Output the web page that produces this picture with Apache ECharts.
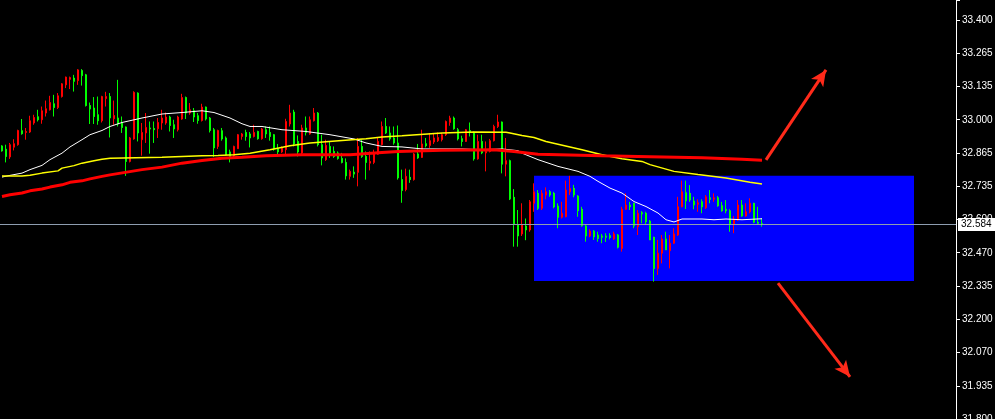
<!DOCTYPE html>
<html>
<head>
<meta charset="utf-8">
<script src="https://cdn.jsdelivr.net/npm/echarts@6/dist/echarts.min.js"></script>
<style>
html,body{margin:0;padding:0;background:#000;}
#chart{width:995px;height:419px;}
</style>
</head>
<body>
<div id="chart"></div>
<script>
// ---- data ----
const opens = [32.875,32.853,32.900,32.904,32.957,32.944,32.953,32.996,33.009,33.000,33.036,33.044,33.069,33.049,33.096,33.144,33.171,33.169,33.154,33.200,33.177,33.057,33.043,33.013,32.996,33.093,33.093,33.007,33.017,32.983,32.969,32.833,32.927,33.110,32.947,32.949,32.969,32.963,32.960,32.989,33.007,33.011,32.977,32.963,33.011,33.089,33.027,33.040,33.011,32.997,33.051,33.003,32.957,32.887,32.957,32.923,32.860,32.853,32.893,32.940,32.943,32.933,32.927,32.949,32.924,32.963,32.943,32.933,32.883,32.871,32.887,32.993,33.027,32.903,32.871,32.967,32.949,33.000,33.027,32.900,32.847,32.897,32.867,32.853,32.845,32.829,32.775,32.793,32.782,32.893,32.853,32.829,32.833,32.867,32.913,32.973,32.947,32.923,32.907,32.767,32.716,32.773,32.760,32.863,32.847,32.903,32.896,32.916,32.927,32.929,32.940,32.993,33.007,32.964,32.923,32.913,32.960,32.951,32.843,32.913,32.867,32.873,32.916,32.973,32.991,32.822,32.836,32.682,32.580,32.534,32.578,32.558,32.671,32.711,32.645,32.705,32.711,32.698,32.651,32.609,32.625,32.718,32.725,32.698,32.635,32.575,32.534,32.554,32.531,32.524,32.529,32.529,32.528,32.542,32.489,32.641,32.658,32.651,32.574,32.625,32.622,32.591,32.518,32.404,32.465,32.522,32.478,32.505,32.542,32.651,32.711,32.675,32.678,32.658,32.667,32.651,32.691,32.681,32.687,32.655,32.635,32.635,32.582,32.598,32.658,32.614,32.631,32.665,32.589,32.585,32.582];
const highs = [32.898,32.900,32.907,32.922,32.960,33.003,32.967,33.016,33.020,33.040,33.053,33.077,33.096,33.100,33.107,33.147,33.173,33.173,33.180,33.203,33.203,33.184,33.069,33.091,33.093,33.096,33.112,33.107,33.077,33.160,33.013,32.973,32.931,33.114,33.110,32.987,33.027,32.993,32.993,33.007,33.040,33.029,33.016,33.000,33.016,33.104,33.093,33.067,33.047,33.027,33.064,33.053,33.011,32.967,32.960,32.967,32.933,32.880,32.896,32.943,32.947,32.960,32.951,32.980,32.956,32.967,32.973,32.973,32.943,32.903,32.893,33.004,33.060,33.040,32.937,32.980,33.013,33.013,33.047,33.031,32.940,32.920,32.913,32.893,32.873,32.867,32.845,32.800,32.813,32.927,32.920,32.873,32.873,32.880,32.927,32.993,33.007,32.973,32.973,32.977,32.800,32.804,32.800,32.867,32.903,32.960,32.927,32.947,32.947,32.949,32.947,32.997,33.016,33.013,32.967,32.936,32.963,32.989,32.953,32.940,32.940,32.913,32.923,32.980,33.020,32.993,32.927,32.840,32.722,32.638,32.665,32.604,32.678,32.745,32.718,32.718,32.729,32.718,32.711,32.665,32.671,32.756,32.775,32.739,32.698,32.651,32.578,32.561,32.558,32.551,32.542,32.545,32.545,32.551,32.542,32.651,32.705,32.671,32.667,32.638,32.634,32.631,32.598,32.531,32.518,32.538,32.551,32.538,32.565,32.691,32.756,32.756,32.738,32.691,32.681,32.681,32.698,32.718,32.705,32.694,32.671,32.678,32.641,32.614,32.678,32.678,32.665,32.685,32.667,32.651,32.605];
const lows = [32.872,32.829,32.843,32.877,32.896,32.940,32.920,32.947,32.980,32.993,32.984,33.013,33.037,33.013,33.043,33.089,33.127,33.123,33.113,33.140,33.137,33.053,32.983,32.983,32.980,32.989,33.053,32.929,32.980,32.973,32.947,32.775,32.829,32.920,32.913,32.856,32.907,32.864,32.907,32.927,32.960,32.980,32.953,32.927,32.953,33.000,33.003,33.020,32.991,32.984,32.993,32.997,32.949,32.851,32.883,32.916,32.856,32.829,32.849,32.883,32.920,32.916,32.889,32.929,32.920,32.920,32.927,32.916,32.876,32.853,32.867,32.862,32.973,32.893,32.853,32.862,32.937,32.940,32.993,32.893,32.817,32.835,32.847,32.847,32.840,32.825,32.760,32.760,32.767,32.733,32.847,32.760,32.797,32.822,32.860,32.897,32.943,32.916,32.900,32.760,32.667,32.713,32.747,32.756,32.843,32.847,32.889,32.887,32.903,32.911,32.913,32.935,32.976,32.960,32.917,32.893,32.911,32.933,32.836,32.840,32.862,32.793,32.869,32.913,32.967,32.785,32.773,32.678,32.491,32.491,32.534,32.517,32.551,32.631,32.638,32.638,32.681,32.691,32.645,32.565,32.604,32.609,32.698,32.689,32.611,32.571,32.511,32.529,32.518,32.511,32.505,32.510,32.520,32.518,32.484,32.471,32.638,32.638,32.565,32.538,32.585,32.578,32.518,32.351,32.378,32.424,32.478,32.404,32.502,32.534,32.649,32.642,32.671,32.641,32.631,32.625,32.642,32.665,32.671,32.651,32.631,32.625,32.551,32.545,32.595,32.611,32.611,32.625,32.585,32.578,32.571];
const closes = [32.895,32.882,32.851,32.890,32.900,32.956,32.949,32.951,32.987,33.012,33.000,33.027,33.040,33.064,33.049,33.093,33.140,33.162,33.167,33.157,33.197,33.180,33.057,33.047,33.020,32.996,33.085,33.093,33.004,33.007,32.987,32.971,32.833,32.923,33.107,32.920,32.947,32.967,32.965,32.964,32.987,32.987,33.011,32.980,32.960,33.003,33.089,33.027,33.036,33.016,32.997,33.051,33.007,32.960,32.893,32.956,32.927,32.871,32.857,32.884,32.933,32.949,32.943,32.933,32.953,32.924,32.960,32.949,32.940,32.884,32.871,32.880,32.983,33.031,32.913,32.867,32.967,32.943,32.996,33.027,32.900,32.840,32.893,32.873,32.867,32.845,32.829,32.773,32.790,32.789,32.893,32.853,32.826,32.829,32.862,32.900,32.973,32.947,32.927,32.907,32.760,32.720,32.769,32.760,32.863,32.849,32.904,32.897,32.911,32.916,32.920,32.940,32.989,33.007,32.960,32.924,32.913,32.957,32.949,32.843,32.913,32.867,32.873,32.916,32.973,32.991,32.822,32.836,32.689,32.580,32.542,32.574,32.558,32.665,32.705,32.645,32.698,32.711,32.705,32.654,32.609,32.611,32.711,32.725,32.694,32.641,32.574,32.534,32.554,32.538,32.534,32.534,32.535,32.522,32.538,32.484,32.641,32.658,32.665,32.571,32.627,32.625,32.594,32.529,32.404,32.465,32.522,32.475,32.505,32.538,32.651,32.707,32.705,32.674,32.661,32.671,32.647,32.687,32.681,32.687,32.655,32.641,32.635,32.582,32.598,32.658,32.614,32.631,32.665,32.589,32.584];

// moving-average lines: [bar index, price]
const maWhite = [[0,32.770],[2,32.777],[5,32.786],[7,32.800],[10,32.817],[12,32.840],[15,32.866],[17,32.891],[20,32.920],[22,32.940],[25,32.957],[27,32.973],[30,32.989],[35,33.007],[40,33.023],[45,33.029],[50,33.036],[53,33.029],[57,33.007],[60,32.984],[62,32.973],[65,32.973],[70,32.960],[76,32.953],[82,32.940],[88,32.923],[91,32.907],[95,32.893],[100,32.891],[105,32.883],[110,32.883],[115,32.883],[120,32.880],[125,32.883],[129,32.876],[130,32.866],[134,32.840],[139,32.813],[144,32.793],[147,32.773],[149,32.753],[152,32.726],[155,32.706],[158,32.672],[161,32.652],[164,32.626],[166,32.599],[168,32.590],[170,32.602],[175,32.602],[178,32.599],[181,32.602],[185,32.599],[190,32.603]];
const maYellow = [[0,32.774],[5,32.774],[7,32.777],[10,32.786],[14,32.795],[15,32.806],[18,32.816],[20,32.826],[23,32.836],[25,32.842],[27,32.846],[40,32.850],[50,32.856],[54,32.857],[58,32.860],[62,32.866],[67,32.880],[72,32.896],[77,32.907],[85,32.917],[91,32.924],[95,32.931],[100,32.936],[110,32.947],[118,32.951],[126,32.950],[127,32.947],[130,32.937],[133,32.929],[136,32.913],[145,32.880],[150,32.860],[155,32.844],[160,32.833],[162,32.820],[168,32.793],[174,32.780],[181,32.766],[187,32.749],[190,32.742]];
const maRed = [[0,32.692],[2,32.699],[5,32.706],[7,32.715],[10,32.722],[12,32.730],[15,32.739],[17,32.749],[20,32.755],[22,32.763],[25,32.773],[27,32.779],[35,32.800],[40,32.810],[45,32.826],[50,32.837],[55,32.846],[60,32.850],[66,32.856],[75,32.860],[87,32.860],[95,32.869],[99,32.873],[110,32.878],[123,32.880],[128,32.873],[134,32.862],[150,32.856],[162,32.852],[175,32.848],[185,32.842],[190,32.838]];

const barCount = 239;           // slots on the time axis (incl. empty right margin)
const currentPrice = 32.584;
const boxRange = {fromBar: 133, toBar: 228, top: 32.775, bottom: 32.353};
const arrowUp = [[191, 32.839], [206, 33.200]];
const arrowDown = [[194, 32.345], [212, 31.969]];
const tickLabels = ['31.800','31.935','32.070','32.200','32.335','32.470','32.600','32.735','32.865','33.000','33.135','33.265','33.400'];
const yMin = 31.8, yTop = 33.4;

// ---- build ----
const categories = [];
for (let i = 0; i < barCount; i++) categories.push(String(i));
const candles = opens.map((o, i) => [o, closes[i], lows[i], highs[i]]);
const interval = (yTop - yMin) / 12;
const yMax = yTop + 20 * (yTop - yMin) / 399;

const chart = echarts.init(document.getElementById('chart'), null, {renderer: 'canvas'});
chart.setOption({
  backgroundColor: '#000000',
  animation: false,
  grid: {left: 0, right: 39, top: 0, bottom: 0, containLabel: false, outerBoundsMode: 'none'},
  xAxis: {
    type: 'category', data: categories, boundaryGap: true,
    axisLine: {show: false}, axisTick: {show: false}, axisLabel: {show: false}, splitLine: {show: false}
  },
  yAxis: {
    type: 'value', position: 'right', min: yMin, max: yMax, interval: interval, scale: true,
    axisLine: {show: true, lineStyle: {color: '#ffffff', width: 1}},
    axisTick: {show: true, length: 4, lineStyle: {color: '#ffffff'}},
    splitLine: {show: false},
    axisLabel: {
      color: '#ffffff', fontSize: 10, fontFamily: 'Liberation Sans', margin: 6,
      formatter: function (v) {
        const k = Math.round((v - yMin) / interval);
        if (Math.abs(v - (yMin + k * interval)) > interval * 0.05) return '';
        return (k >= 0 && k < tickLabels.length) ? tickLabels[k] : '';
      }
    }
  },
  series: [
    {
      type: 'line', data: [], z: 1, silent: true,
      markArea: {
        silent: true,
        itemStyle: {color: '#0000ff', opacity: 1},
        data: [[{xAxis: boxRange.fromBar, yAxis: boxRange.top}, {xAxis: boxRange.toBar, yAxis: boxRange.bottom}]]
      }
    },
    {
      type: 'candlestick', data: candles, z: 3, barWidth: 2,
      itemStyle: {color: '#ffffff', borderColor: '#00ff00', color0: '#ff0000', borderColor0: '#ff0000', borderWidth: 1},
      markLine: {
        silent: true, symbol: 'none',
        lineStyle: {color: '#8e9db0', width: 1, type: 'solid'},
        label: {
          show: true, position: 'end', distance: 2, formatter: currentPrice.toFixed(3),
          color: '#000000', backgroundColor: '#ffffff', fontSize: 10, fontFamily: 'Liberation Sans',
          padding: [2, 4, 1, 3]
        },
        data: [{yAxis: currentPrice}]
      }
    },
    {type: 'line', data: maWhite, z: 4, showSymbol: false, symbol: 'none', lineStyle: {color: '#ffffff', width: 1}},
    {type: 'line', data: maYellow, z: 4, showSymbol: false, symbol: 'none', lineStyle: {color: '#ffff00', width: 1.5}},
    {type: 'line', data: maRed, z: 4, showSymbol: false, symbol: 'none', lineStyle: {color: '#ff0000', width: 3}},
    {
      type: 'line', data: [], z: 5, silent: true,
      markLine: {
        silent: true, symbol: ['none', 'arrow'], symbolSize: [11, 16],
        lineStyle: {color: '#ff2a1a', width: 3, type: 'solid'},
        label: {show: false},
        data: [
          [{coord: arrowUp[0]}, {coord: arrowUp[1]}],
          [{coord: arrowDown[0]}, {coord: arrowDown[1]}]
        ]
      }
    }
  ]
});
</script>
</body>
</html>
